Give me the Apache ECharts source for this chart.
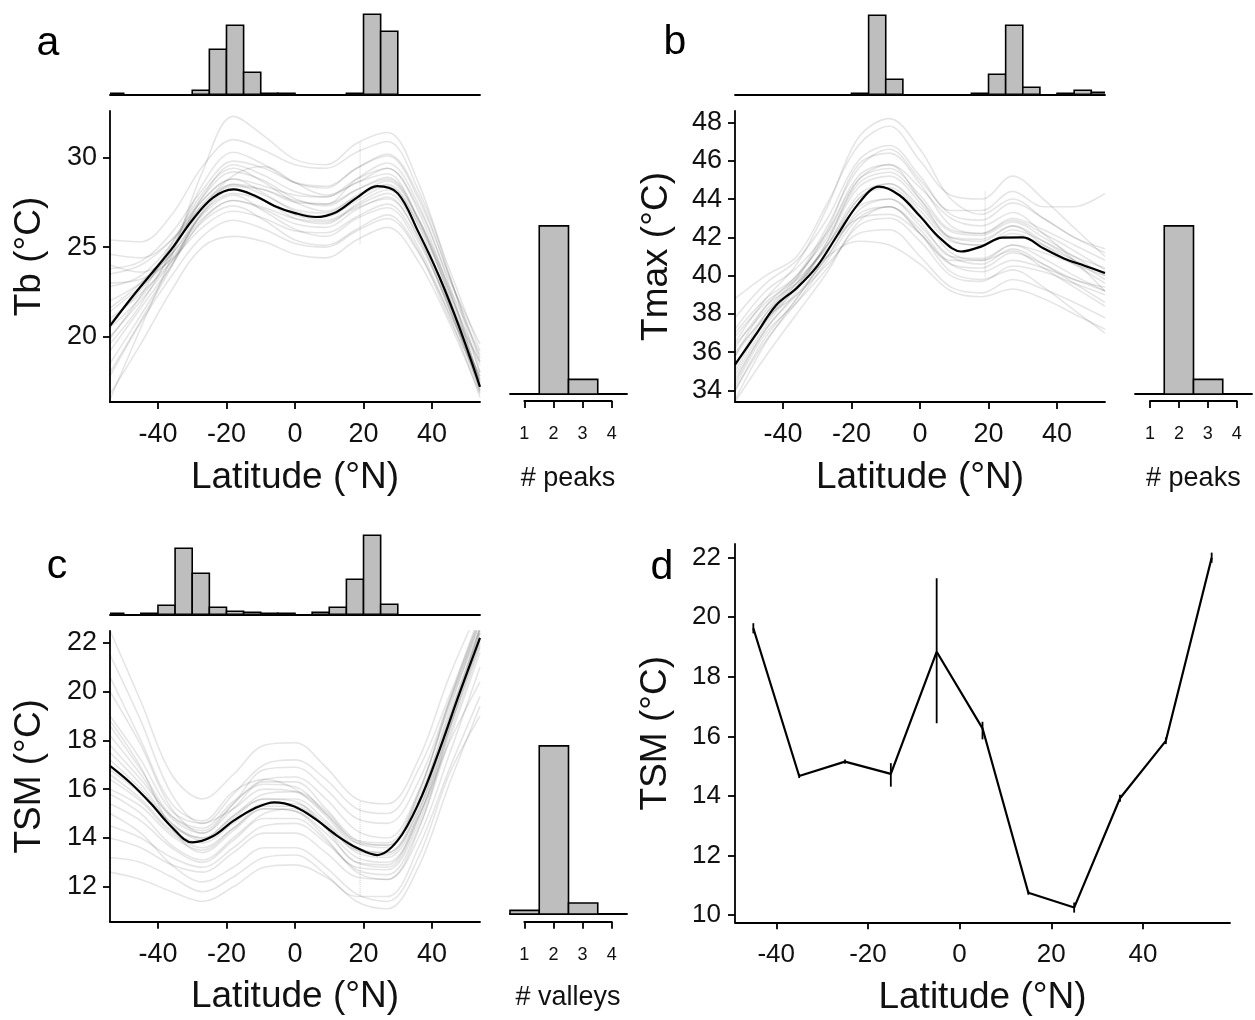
<!DOCTYPE html>
<html>
<head>
<meta charset="utf-8">
<script src="https://cdn.jsdelivr.net/npm/echarts@6/dist/echarts.min.js"></script>
<style>
  html, body { margin: 0; padding: 0; background: #fff; }
  #chart { width: 1255px; height: 1020px; }
</style>
</head>
<body>
<div id="chart"></div>
<script>
const FONT = '"Liberation Sans", Arial, sans-serif';

// latitudes of the summary curves
const latMean = [-54, -48, -42, -36, -30, -24, -18, -12, -6, 0, 6, 12, 18, 24, 30, 36, 42, 48, 54];
// latitudes of the bootstrap curves
const latBoot = [-54, -45, -36, -27, -18, -9, 0, 9, 18, 27, 36, 45, 54];
const latTicks = [-40, -20, 0, 20, 40];

// a: body temperature
const tbMean = [20.6, 22.1, 23.5, 24.9, 26.5, 27.75, 28.22, 27.9, 27.3, 26.9, 26.68, 26.95, 27.75, 28.4, 28.0, 25.85, 23.4, 20.5, 17.2];
const tbBoot = [
  [25.4, 25.3, 26.8, 29.5, 31.0, 30.4, 29.6, 29.4, 30.3, 30.9, 28.2, 23.8, 19.2],
  [16.5, 20.5, 24.5, 29.2, 32.3, 31.2, 29.9, 29.6, 30.8, 31.4, 28.6, 23.5, 18.0],
  [23.5, 24.0, 25.4, 27.6, 28.8, 28.4, 27.9, 27.8, 28.8, 29.4, 27.0, 22.6, 17.5],
  [19.2, 21.6, 24.0, 26.5, 27.6, 27.1, 26.3, 26.1, 27.1, 27.8, 25.5, 21.6, 17.0],
  [22.0, 23.0, 24.6, 26.8, 27.9, 27.0, 26.0, 25.6, 26.6, 27.2, 25.0, 21.2, 16.6],
  [17.8, 20.8, 23.4, 25.6, 26.5, 26.0, 25.2, 25.0, 25.9, 26.6, 24.7, 21.3, 17.8],
  [24.6, 24.4, 25.4, 27.3, 28.4, 28.2, 27.6, 27.4, 28.2, 28.8, 26.6, 22.8, 19.0],
  [20.5, 22.2, 24.6, 27.8, 29.6, 29.0, 28.1, 27.8, 28.6, 29.1, 26.5, 22.2, 17.4],
  [16.8, 19.6, 22.6, 25.0, 25.6, 25.3, 24.6, 24.4, 25.4, 26.1, 24.2, 20.8, 16.8],
  [21.6, 23.0, 25.0, 27.6, 28.8, 28.0, 27.0, 26.7, 27.6, 28.4, 26.3, 22.5, 18.4],
  [23.0, 23.2, 24.3, 26.1, 27.0, 26.6, 25.9, 25.8, 26.7, 27.4, 25.3, 21.8, 18.6],
  [18.5, 21.2, 24.0, 27.0, 28.5, 28.2, 27.5, 27.4, 28.8, 29.7, 27.4, 22.9, 17.3],
  [20.0, 22.0, 24.2, 26.9, 28.0, 27.6, 26.8, 26.5, 27.3, 28.0, 25.8, 21.6, 16.9],
  [24.0, 23.6, 24.6, 27.2, 29.0, 29.5, 28.6, 27.9, 28.6, 29.4, 27.2, 23.2, 19.6],
  [21.0, 22.4, 24.2, 26.4, 27.3, 26.5, 25.4, 25.1, 26.0, 26.8, 24.8, 21.0, 17.6],
  [19.6, 21.8, 24.8, 28.5, 30.3, 29.6, 28.6, 28.3, 29.4, 30.1, 27.7, 23.4, 18.8],
  [22.8, 23.4, 25.2, 27.8, 29.2, 28.7, 27.7, 27.3, 28.2, 28.9, 26.6, 22.3, 17.6],
  [20.8, 22.6, 24.8, 27.4, 28.5, 27.9, 27.1, 26.9, 27.9, 28.7, 26.5, 22.6, 18.0],
  [18.0, 20.9, 23.9, 26.9, 28.2, 27.6, 26.6, 26.3, 27.4, 28.2, 25.9, 21.9, 17.0],
  [23.8, 24.2, 25.8, 28.2, 29.8, 29.4, 28.6, 28.4, 29.4, 30.2, 27.9, 23.4, 18.6],
  [21.4, 22.8, 24.4, 26.6, 27.6, 27.2, 26.6, 26.4, 27.2, 27.7, 25.6, 21.5, 17.8],
  [19.9, 22.3, 25.2, 28.0, 29.4, 28.6, 27.5, 27.0, 27.8, 28.5, 26.2, 21.8, 17.2]
];

// b: maximum temperature
const tmaxMean = [35.35, 36.9, 38.45, 39.35, 40.5, 42.15, 43.75, 44.65, 44.2, 43.1, 41.93, 41.26, 41.53, 41.99, 42.0, 41.43, 40.9, 40.52, 40.14];
const tmaxBoot = [
  [38.8, 40.0, 41.0, 43.8, 46.8, 47.8, 46.0, 44.2, 44.0, 45.2, 44.0, 42.5, 41.0],
  [36.5, 38.8, 40.6, 43.6, 47.2, 48.2, 46.6, 44.0, 43.2, 44.0, 43.0, 42.0, 41.2],
  [33.5, 36.5, 38.8, 41.0, 43.2, 43.6, 42.2, 40.2, 39.8, 40.3, 39.4, 38.2, 37.0],
  [35.8, 38.4, 40.0, 42.0, 44.8, 45.4, 44.0, 42.3, 42.1, 42.8, 42.0, 41.0, 40.0],
  [34.2, 37.0, 38.6, 40.4, 42.6, 43.0, 41.8, 40.0, 39.7, 40.5, 40.2, 39.6, 39.0],
  [37.2, 39.2, 40.4, 42.3, 45.2, 45.8, 44.6, 43.0, 42.6, 43.3, 42.2, 40.8, 39.2],
  [36.0, 37.8, 39.0, 40.6, 42.2, 42.4, 41.0, 39.4, 39.1, 39.8, 39.3, 38.6, 37.8],
  [34.8, 37.4, 39.4, 41.6, 44.2, 44.8, 43.4, 41.8, 41.6, 42.4, 41.8, 41.0, 40.4],
  [37.8, 39.6, 40.8, 43.0, 46.0, 46.8, 45.2, 43.4, 43.4, 44.4, 43.6, 43.6, 44.3],
  [33.4, 35.8, 38.0, 40.2, 42.8, 43.6, 42.4, 40.6, 40.2, 40.8, 40.4, 39.8, 39.2],
  [35.4, 37.6, 39.6, 41.6, 43.6, 44.0, 42.6, 41.0, 40.6, 41.4, 40.6, 39.6, 38.6],
  [36.8, 38.6, 39.8, 41.4, 43.0, 43.2, 42.2, 40.8, 40.8, 41.6, 41.2, 40.6, 40.0],
  [34.0, 36.8, 38.8, 41.2, 44.0, 44.6, 43.2, 41.2, 40.8, 41.3, 40.4, 39.4, 38.4],
  [35.2, 38.0, 39.8, 42.4, 45.8, 46.4, 44.8, 42.6, 42.2, 43.0, 42.4, 41.6, 40.8],
  [36.2, 38.4, 39.6, 41.0, 41.8, 41.6, 40.6, 39.2, 38.9, 39.3, 38.8, 38.0, 37.2],
  [34.6, 37.2, 39.2, 41.8, 45.0, 45.8, 44.0, 42.0, 41.8, 42.6, 41.6, 40.6, 39.6],
  [35.0, 37.6, 39.4, 41.8, 44.6, 45.2, 43.8, 41.9, 41.6, 42.2, 41.6, 40.8, 40.1],
  [36.4, 38.2, 39.9, 42.2, 45.0, 45.6, 44.2, 42.4, 42.2, 42.9, 42.2, 41.3, 40.3],
  [34.4, 37.2, 39.0, 41.0, 43.4, 44.0, 42.8, 41.0, 40.9, 41.6, 40.9, 40.0, 39.2],
  [35.8, 38.0, 39.6, 41.6, 44.0, 44.8, 43.6, 42.0, 41.9, 42.6, 41.8, 40.8, 39.8],
  [37.0, 38.8, 40.0, 42.6, 45.6, 46.6, 45.0, 43.2, 42.9, 43.8, 43.0, 42.0, 41.4],
  [34.0, 36.6, 38.6, 40.8, 43.0, 43.6, 42.2, 40.6, 40.4, 41.2, 40.6, 39.8, 39.4]
];

// c: thermal safety margin
const tsmMean = [16.95, 16.25, 15.4, 14.45, 13.82, 14.07, 14.7, 15.2, 15.46, 15.28, 14.77, 14.12, 13.6, 13.3, 13.9, 15.4, 17.54, 19.92, 22.2];
const tsmBoot = [
  [22.5, 19.6, 16.6, 15.6, 16.6, 17.8, 17.9, 16.9, 15.6, 15.4, 17.2, 20.6, 23.5],
  [20.0, 17.8, 15.2, 14.2, 15.4, 16.8, 16.9, 16.0, 14.8, 14.6, 16.3, 19.6, 22.8],
  [12.6, 12.3, 11.8, 11.4, 12.0, 12.8, 12.9, 12.4, 11.6, 11.6, 13.6, 16.8, 19.8],
  [14.5, 14.0, 13.2, 12.8, 13.6, 14.5, 14.6, 13.8, 12.8, 12.7, 14.6, 18.2, 21.8],
  [18.2, 16.6, 14.8, 14.2, 15.2, 16.3, 16.3, 15.2, 13.9, 13.7, 15.4, 18.8, 22.0],
  [15.0, 14.2, 12.9, 12.2, 12.8, 13.6, 13.6, 12.8, 11.7, 11.4, 13.2, 16.6, 19.0],
  [21.5, 18.8, 15.8, 14.6, 15.2, 16.0, 15.9, 15.0, 13.8, 13.6, 15.8, 19.6, 23.2],
  [16.4, 15.5, 14.2, 13.6, 14.4, 15.2, 15.1, 14.2, 13.0, 12.8, 14.8, 18.6, 22.6],
  [13.2, 13.0, 12.4, 11.8, 12.4, 13.2, 13.3, 12.5, 11.4, 11.1, 12.8, 16.2, 19.4],
  [19.0, 17.2, 15.1, 14.6, 15.8, 17.0, 17.2, 16.4, 15.2, 15.0, 16.8, 19.8, 23.0],
  [17.5, 16.2, 14.6, 13.9, 14.8, 15.6, 15.5, 14.4, 13.0, 12.9, 15.0, 18.9, 22.6],
  [14.0, 13.6, 12.9, 12.6, 13.4, 14.2, 14.2, 13.4, 12.4, 12.3, 14.0, 17.4, 21.0],
  [20.6, 18.0, 15.4, 14.7, 15.9, 16.4, 16.0, 14.9, 13.6, 13.4, 15.4, 19.2, 22.9],
  [15.8, 15.0, 13.7, 13.1, 14.0, 15.0, 15.2, 14.5, 13.4, 13.2, 14.9, 17.9, 20.4],
  [16.8, 15.8, 14.5, 14.0, 14.9, 15.8, 15.9, 15.1, 13.9, 13.8, 15.8, 19.4, 22.6],
  [18.8, 16.9, 14.4, 13.4, 14.3, 15.2, 15.1, 14.0, 12.6, 12.3, 14.3, 18.4, 22.4],
  [17.2, 16.0, 14.6, 14.0, 14.9, 15.6, 15.6, 14.7, 13.5, 13.3, 15.2, 18.8, 22.4],
  [16.0, 15.3, 14.1, 13.5, 14.4, 15.3, 15.3, 14.4, 13.2, 13.0, 14.8, 18.4, 22.1],
  [18.6, 16.8, 14.9, 14.3, 15.4, 16.4, 16.5, 15.6, 14.3, 14.0, 15.9, 19.5, 23.0],
  [15.4, 14.7, 13.6, 13.0, 13.9, 14.8, 14.8, 13.9, 12.7, 12.5, 14.4, 18.0, 21.6],
  [17.8, 16.4, 14.9, 14.4, 15.5, 16.2, 16.1, 15.0, 13.8, 13.7, 15.6, 19.0, 22.5],
  [16.6, 15.6, 14.3, 13.8, 14.6, 15.4, 15.4, 14.6, 13.5, 13.4, 15.1, 18.5, 21.9]
];

// faint dotted segment near 19°N in each panel
const markLat = 19;
const tbMark = [25.2, 30.9];
const tmaxMark = [39.95, 44.4];
const tsmMark = [11.66, 15.5];

// top histograms: latitude of peaks / valleys, 5° bins
const binStart = [-55, -50, -45, -40, -35, -30, -25, -20, -15, -10, -5, 0, 5, 10, 15, 20, 25, 30, 35, 40, 45, 50];
const tbPeakCounts   = [1, 0, 0, 0, 0, 4, 45, 69, 22, 1, 1, 0, 0, 0, 1, 80, 63, 0, 0, 0, 0, 0];
const tmaxPeakCounts = [0, 0, 0, 0, 0, 0, 0, 1, 79, 15, 0, 0, 0, 0, 1, 20, 69, 7, 0, 1, 4, 2];
const tsmValleyCounts = [1, 0, 1, 9, 66, 41, 7, 3, 2, 1, 1, 0, 2, 7, 35, 79, 10, 0, 0, 0, 0, 0];

// right histograms: number of peaks / valleys
const nCats = [1, 2, 3, 4];
const tbNPeaks = [0, 92, 8, 0];
const tmaxNPeaks = [0, 92, 8, 0];
const tsmNValleys = [2, 92, 6, 0];

// d: binned TSM with error bars
const dLat  = [-45, -35, -25, -15, -5, 5, 15, 25, 35, 45, 55];
const dTsm  = [19.63, 14.67, 15.15, 14.74, 18.84, 16.27, 10.75, 10.25, 13.92, 15.85, 22.0];
const dLow  = [19.46, 14.60, 15.08, 14.31, 16.44, 15.90, 10.68, 10.08, 13.80, 15.74, 21.83];
const dHigh = [19.80, 14.74, 15.22, 15.10, 21.31, 16.49, 10.82, 10.42, 14.04, 15.96, 22.17];

const black = { color: "#000", width: 1.8 };

const grids = [
  { left: 110, top: 10.3, width: 370, height: 84 },    // 0 a hist
  { left: 110, top: 111, width: 370, height: 291 },    // 1 a main
  { left: 510, top: 224, width: 117, height: 170 },    // 2 a n peaks
  { left: 524.3, top: 400, width: 87.4, height: 1 },   // 3 a n peaks ticks
  { left: 735, top: 10.3, width: 370, height: 84 },    // 4 b hist
  { left: 735, top: 111, width: 370, height: 291 },    // 5 b main
  { left: 1135, top: 224, width: 117, height: 170 },   // 6 b n peaks
  { left: 1150, top: 400, width: 86.7, height: 1 },    // 7 b n peaks ticks
  { left: 110, top: 530.3, width: 370, height: 84 },   // 8 c hist
  { left: 110, top: 631, width: 370, height: 290.7 },  // 9 c main
  { left: 510, top: 744, width: 117, height: 170 },    // 10 c n valleys
  { left: 524.3, top: 920.7, width: 87.4, height: 1 }, // 11 c ticks
  { left: 735, top: 544, width: 495, height: 378.3 },  // 12 d
].map((g) => ({ ...g, containLabel: false, outerBoundsMode: "none" }));

const hidden = (gridIndex, min, max) => ({ gridIndex, type: "value", min, max, show: false });

const lineAxis = (gridIndex, min, max) => ({
  gridIndex, type: "value", min, max,
  axisLine: { show: true, onZero: false, lineStyle: black },
  axisTick: { show: false },
  axisLabel: { show: false },
  splitLine: { show: false },
});

const tickAxis = (gridIndex, min, max, ticks, fontSize, margin, extra) => ({
  gridIndex, type: "value", min, max,
  axisLine: { show: true, onZero: false, lineStyle: black },
  axisTick: { show: true, length: 7, customValues: ticks, lineStyle: black },
  axisLabel: { customValues: ticks, fontSize, margin, color: "#111", fontFamily: FONT },
  splitLine: { show: false },
  nameLocation: "middle",
  nameTextStyle: { fontSize: 37, color: "#111", fontFamily: FONT },
  ...extra,
});

const latAxis = (gridIndex, min, max) =>
  tickAxis(gridIndex, min, max, latTicks, 27, 19, { name: "Latitude (°N)", nameGap: 57 });

const valAxis = (gridIndex, min, max, ticks, name, gap) =>
  tickAxis(gridIndex, min, max, ticks, 27, 13, { name, nameGap: gap, nameRotate: 90 });

const countAxis = (gridIndex, name, gap) =>
  tickAxis(gridIndex, 1, 4, nCats, 18, 24, {
    name, nameGap: gap, nameTextStyle: { fontSize: 27, color: "#111", fontFamily: FONT },
  });

const xAxis = [
  lineAxis(0, -54, 54), latAxis(1, -54, 54), lineAxis(2, 0.5, 4.5), countAxis(3, "# peaks", 64),
  lineAxis(4, -54, 54), latAxis(5, -54, 54), lineAxis(6, 0.5, 4.5), countAxis(7, "# peaks", 64),
  lineAxis(8, -54, 54), latAxis(9, -54, 54), lineAxis(10, 0.5, 4.5), countAxis(11, "# valleys", 62),
  tickAxis(12, -49, 59, latTicks, 26, 20, { name: "Latitude (°N)", nameGap: 57 }),
];

const yAxis = [
  hidden(0, 0, 84), valAxis(1, 16.35, 32.6, [20, 25, 30], "Tb (°C)", 62), hidden(2, 0, 93), hidden(3, 0, 1),
  hidden(4, 0, 84), valAxis(5, 33.4, 48.6, [34, 36, 38, 40, 42, 44, 46, 48], "Tmax (°C)", 60), hidden(6, 0, 93), hidden(7, 0, 1),
  hidden(8, 0, 84), valAxis(9, 10.57, 22.48, [12, 14, 16, 18, 20, 22], "TSM (°C)", 62), hidden(10, 0, 93), hidden(11, 0, 1),
  tickAxis(12, 9.755, 22.46, [10, 12, 14, 16, 18, 20, 22], 26, 14, { name: "TSM (°C)", nameGap: 61, nameRotate: 90 }),
];

// rectangles drawn through the axis scales
const renderBar = (params, api) => {
  const c = api.value(2);
  if (!c) return null;
  const p0 = api.coord([api.value(0), c]);
  const p1 = api.coord([api.value(1), 0]);
  return {
    type: "rect",
    shape: { x: p0[0], y: p0[1], width: p1[0] - p0[0], height: p1[1] - p0[1] },
    style: { fill: "#bebebe", stroke: "#000", lineWidth: 1.6 },
  };
};

const histSeries = (idx, starts, counts, width) => ({
  type: "custom",
  xAxisIndex: idx, yAxisIndex: idx,
  clip: true, silent: true,
  renderItem: renderBar,
  encode: { x: [0, 1], y: 2 },
  data: starts.map((s, i) => [s, s + width, counts[i]]),
});

const countSeries = (idx, counts) => ({
  type: "custom",
  xAxisIndex: idx, yAxisIndex: idx,
  silent: true,
  renderItem: renderBar,
  encode: { x: [0, 1], y: 2 },
  data: nCats.map((n, i) => [n - 0.5, n + 0.5, counts[i]]),
});

const bootSeries = (idx, curves) => curves.map((curve) => ({
  type: "line", xAxisIndex: idx, yAxisIndex: idx,
  symbol: "none", smooth: 0.35, silent: true,
  lineStyle: { color: "rgba(0,0,0,0.1)", width: 1.6 },
  data: latBoot.map((x, i) => [x, curve[i]]),
}));

const meanSeries = (idx, values) => ({
  type: "line", xAxisIndex: idx, yAxisIndex: idx,
  symbol: "none", smooth: 0.35, silent: true, z: 5,
  lineStyle: { color: "#000", width: 2.2 },
  data: latMean.map((x, i) => [x, values[i]]),
});

const markSeries = (idx, range) => ({
  type: "line", xAxisIndex: idx, yAxisIndex: idx,
  symbol: "none", silent: true,
  lineStyle: { color: "rgba(0,0,0,0.2)", width: 1, type: "dotted" },
  data: range.map((v) => [markLat, v]),
});

const series = [
  histSeries(0, binStart, tbPeakCounts, 5),
  histSeries(4, binStart, tmaxPeakCounts, 5),
  histSeries(8, binStart, tsmValleyCounts, 5),
  countSeries(2, tbNPeaks),
  countSeries(6, tmaxNPeaks),
  countSeries(10, tsmNValleys),
  ...bootSeries(1, tbBoot),
  ...bootSeries(5, tmaxBoot),
  ...bootSeries(9, tsmBoot),
  markSeries(1, tbMark),
  markSeries(5, tmaxMark),
  markSeries(9, tsmMark),
  meanSeries(1, tbMean),
  meanSeries(5, tmaxMean),
  meanSeries(9, tsmMean),
  {
    type: "line", xAxisIndex: 12, yAxisIndex: 12,
    symbol: "none", silent: true,
    lineStyle: { color: "#000", width: 2.2 },
    data: dLat.map((x, i) => [x, dTsm[i]]),
  },
  {
    type: "custom", xAxisIndex: 12, yAxisIndex: 12, silent: true,
    encode: { x: 0, y: [1, 2] },
    data: dLat.map((x, i) => [x, dLow[i], dHigh[i]]),
    renderItem: (params, api) => {
      const lo = api.coord([api.value(0), api.value(1)]);
      const hi = api.coord([api.value(0), api.value(2)]);
      return {
        type: "line",
        shape: { x1: lo[0], y1: lo[1], x2: hi[0], y2: hi[1] },
        style: { stroke: "#000", lineWidth: 1.8 },
      };
    },
  },
];

// panel letters
const letter = (text, x, y) => ({
  type: "text", x, y, silent: true,
  style: { text, fontSize: 41, fontFamily: FONT, fill: "#000", align: "center", verticalAlign: "middle" },
});

const options = {
  animation: false,
  backgroundColor: "#fff",
  grid: grids,
  xAxis,
  yAxis,
  series,
  graphic: [letter("a", 48, 43.5), letter("b", 675, 43), letter("c", 57, 566.5), letter("d", 662, 568)],
};

const chart = echarts.init(document.getElementById("chart"), null, { renderer: "canvas" });
chart.setOption(options);
</script>
</body>
</html>
